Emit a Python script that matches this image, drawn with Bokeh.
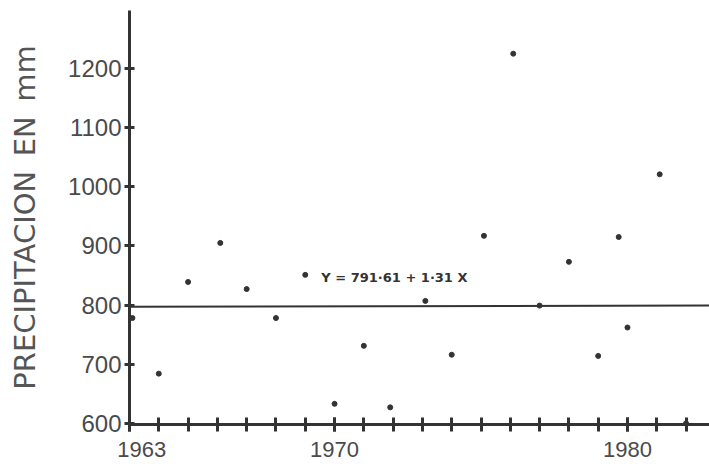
from bokeh.plotting import figure
from bokeh.models import FixedTicker, Label, Range1d
from bokeh.embed import file_html
from bokeh.resources import INLINE

# Data
years = [1963.1, 1964.0, 1965.0, 1966.1, 1967.0, 1968.0, 1969.0, 1970.0, 1971.0, 1971.9,
         1973.1, 1974.0, 1975.1, 1976.1, 1977.0, 1978.0, 1979.0, 1979.7, 1980.0, 1981.1, 1982.0]
precip = [778, 684, 839, 905, 827, 778, 851, 633, 731, 627,
          807, 716, 917, 1225, 799, 873, 714, 915, 762, 1021, 600]

trend_x = [1963, 1982.8]
trend_y = [797, 799]

y_ticks = [600, 700, 800, 900, 1000, 1100, 1200]
x_major = [1963, 1970, 1980]
x_minor = list(range(1963, 1983))

equation = "Y = 791·61 + 1·31 X"
eq_x, eq_y = 1969.55, 846
y_title = "PRECIPITACION\u2002EN\u2002mm"

ink = "#333333"
grey = "#4a4a4a"

p = figure(width=709, height=464, output_backend="svg", toolbar_location=None,
           x_range=Range1d(1963, 1982.8), y_range=Range1d(598, 1298),
           min_border_left=129, min_border_right=0, min_border_top=10, min_border_bottom=39)
p.outline_line_color = None
p.grid.visible = False
p.background_fill_color = "white"
p.border_fill_color = "white"

p.line(trend_x, trend_y, line_color=ink, line_width=2)
p.scatter(years, precip, size=5, color=ink)

xa = p.xaxis[0]
xa.ticker = FixedTicker(ticks=x_major, minor_ticks=x_minor)
xa.major_label_overrides = {1963: "\u00a0\u00a0\u00a0\u00a01963"}
xa.axis_line_color = ink
xa.axis_line_width = 3
xa.major_tick_line_color = ink
xa.major_tick_line_width = 3
xa.major_tick_in = 7
xa.major_tick_out = 7
xa.minor_tick_line_color = ink
xa.minor_tick_line_width = 3
xa.minor_tick_in = 7
xa.minor_tick_out = 7
xa.major_label_standoff = 5
xa.major_label_text_font = "Liberation Sans"
xa.major_label_text_font_size = "22px"
xa.major_label_text_color = grey

ya = p.yaxis[0]
ya.ticker = FixedTicker(ticks=y_ticks)
ya.axis_line_color = ink
ya.axis_line_width = 3
ya.major_tick_line_color = ink
ya.major_tick_line_width = 3
ya.major_tick_in = 5
ya.major_tick_out = 5
ya.minor_tick_line_color = None
ya.major_label_standoff = 3
ya.major_label_text_font = "Liberation Sans"
ya.major_label_text_font_size = "24px"
ya.major_label_text_color = grey
ya.axis_label = y_title
ya.axis_label_text_font = "DejaVu Sans"
ya.axis_label_text_font_size = "29px"
ya.axis_label_text_font_style = "normal"
ya.axis_label_text_color = "#555555"
ya.axis_label_standoff = 23

p.add_layout(Label(x=eq_x, y=eq_y, text=equation, text_font="DejaVu Sans",
                   text_font_size="13px", text_font_style="bold", text_color=ink,
                   text_baseline="middle"))

open("out.html", "w").write(file_html(p, INLINE))
